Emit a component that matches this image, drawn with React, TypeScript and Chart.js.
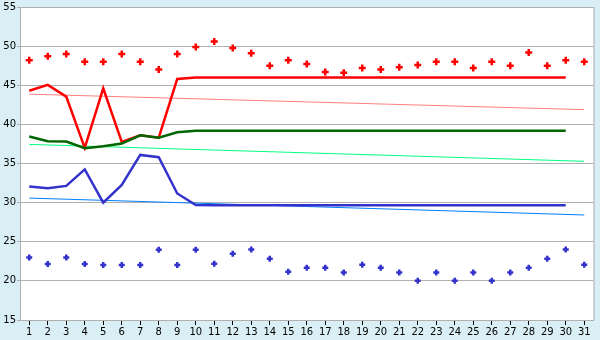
import React, { useEffect, useRef } from "react";
import { Chart, registerables } from "chart.js";

Chart.register(...registerables);

const days = Array.from({ length: 31 }, (_, i) => String(i + 1));
const yTicks = [15, 20, 25, 30, 35, 40, 45, 50, 55];

const redPoints = [48.2, 48.7, 49.0, 48.0, 48.0, 49.0, 48.0, 47.0, 49.0, 49.9, 50.6, 49.75, 49.1, 47.5, 48.2, 47.7, 46.7, 46.6, 47.2, 47.0, 47.3, 47.6, 48.0, 48.0, 47.2, 48.0, 47.5, 49.2, 47.5, 48.2, 48.0];
const redLine = [44.3, 45.05, 43.55, 37.0, 44.6, 37.75, 38.6, 38.3, 45.8, 46.0, 46.0, 46.0, 46.0, 46.0, 46.0, 46.0, 46.0, 46.0, 46.0, 46.0, 46.0, 46.0, 46.0, 46.0, 46.0, 46.0, 46.0, 46.0, 46.0, 46.0, null];
const redTrend = [43.86, null, null, null, null, null, null, null, null, null, null, null, null, null, null, null, null, null, null, null, null, null, null, null, null, null, null, null, null, null, 41.88];

const greenLine = [38.45, 37.85, 37.8, 36.95, 37.2, 37.55, 38.6, 38.3, 39.0, 39.17, 39.17, 39.17, 39.17, 39.17, 39.17, 39.17, 39.17, 39.17, 39.17, 39.17, 39.17, 39.17, 39.17, 39.17, 39.17, 39.17, 39.17, 39.17, 39.17, 39.17, null];
const greenTrend = [37.44, null, null, null, null, null, null, null, null, null, null, null, null, null, null, null, null, null, null, null, null, null, null, null, null, null, null, null, null, null, 35.28];

const blueLine = [32.05, 31.84, 32.14, 34.25, 30.0, 32.27, 36.1, 35.8, 31.17, 29.7, 29.65, 29.65, 29.65, 29.65, 29.65, 29.65, 29.65, 29.65, 29.65, 29.65, 29.65, 29.65, 29.65, 29.65, 29.65, 29.65, 29.65, 29.65, 29.65, 29.65, null];
const blueTrend = [30.58, null, null, null, null, null, null, null, null, null, null, null, null, null, null, null, null, null, null, null, null, null, null, null, null, null, null, null, null, null, 28.42];
const bluePoints = [23.0, 22.16, 23.0, 22.16, 22.03, 22.03, 22.03, 23.97, 22.03, 23.97, 22.2, 23.47, 24.0, 22.83, 21.18, 21.69, 21.69, 21.06, 22.07, 21.69, 21.06, 20.03, 21.06, 20.03, 21.06, 20.03, 21.06, 21.69, 22.83, 24.0, 22.07];

const BG = "#daeff5";
const GRID = "#b0b0b0";

const bgPlugin = {
  id: "bgPlugin",
  beforeDraw(chart: any) {
    const { ctx, chartArea: a, width, height } = chart;
    ctx.save();
    ctx.fillStyle = BG;
    ctx.fillRect(0, 0, width, height);
    ctx.fillStyle = "#ffffff";
    ctx.fillRect(a.left, a.top, a.right - a.left, a.bottom - a.top);
    ctx.restore();
  },
  afterDatasetsDraw(chart: any) {
    const { ctx, chartArea: a } = chart;
    ctx.save();
    ctx.strokeStyle = GRID;
    ctx.lineWidth = 1;
    ctx.beginPath();
    ctx.moveTo(a.right + 0.5, a.top);
    ctx.lineTo(a.right + 0.5, a.bottom);
    ctx.stroke();
    ctx.restore();
  },
};

export default function App() {
  const ref = useRef<HTMLCanvasElement>(null);
  useEffect(() => {
    document.body.style.margin = "0";
    const font = { family: "Verdana, 'DejaVu Sans', sans-serif", size: 10 };
    const trend = (data: any[], color: string, order: number) => ({
      data,
      borderColor: color,
      borderWidth: 1,
      pointRadius: 0,
      spanGaps: true,
      tension: 0,
      order,
    });
    const chart = new Chart(ref.current!, {
      type: "line",
      data: {
        labels: days,
        datasets: [
          trend(redTrend, "#ff8080", 9),
          trend(greenTrend, "#00ff80", 9),
          trend(blueTrend, "#0080ff", 9),
          { data: redLine, borderColor: "#ff0000", borderWidth: 2.5, pointRadius: 0, tension: 0, order: 6 } as any,
          { data: blueLine, borderColor: "#3333cc", borderWidth: 2.5, pointRadius: 0, tension: 0, order: 5 } as any,
          { data: greenLine, borderColor: "#006600", borderWidth: 2.5, pointRadius: 0, tension: 0, order: 4 } as any,
          { data: redPoints, showLine: false, pointStyle: "cross", pointRadius: 3.5, borderWidth: 2.5, borderColor: "#ff0000", backgroundColor: "#ff0000", order: 2 } as any,
          { data: bluePoints, showLine: false, pointStyle: "cross", pointRadius: 3, borderWidth: 2.5, borderColor: "#3333cc", backgroundColor: "#3333cc", order: 2 } as any,
        ],
      },
      options: {
        animation: false,
        responsive: false,
        events: [],
        layout: { padding: { top: 5, right: 5, left: 0, bottom: 0 } },
        plugins: { legend: { display: false }, tooltip: { enabled: false } },
        scales: {
          x: {
            type: "category",
            offset: true,
            grid: { display: true, drawOnChartArea: false, drawTicks: true, tickLength: 5, color: "#000000", offset: false },
            border: { display: true, color: GRID, width: 1 },
            ticks: { color: "#000000", font, padding: 1, maxRotation: 0, autoSkip: false },
            afterFit: (s: any) => { s.height = 20; },
          },
          y: {
            min: 15,
            max: 55,
            afterBuildTicks: (s: any) => { s.ticks = yTicks.map((v) => ({ value: v })); },
            grid: { color: GRID, tickLength: 3, drawTicks: true },
            border: { display: true, color: GRID, width: 1 },
            ticks: { color: "#000000", font, padding: 1 },
            afterFit: (s: any) => { s.width = 20; },
          },
        },
      },
      plugins: [bgPlugin],
    });
    return () => chart.destroy();
  }, []);
  return <canvas ref={ref} width={600} height={340} style={{ display: "block" }} />;
}
